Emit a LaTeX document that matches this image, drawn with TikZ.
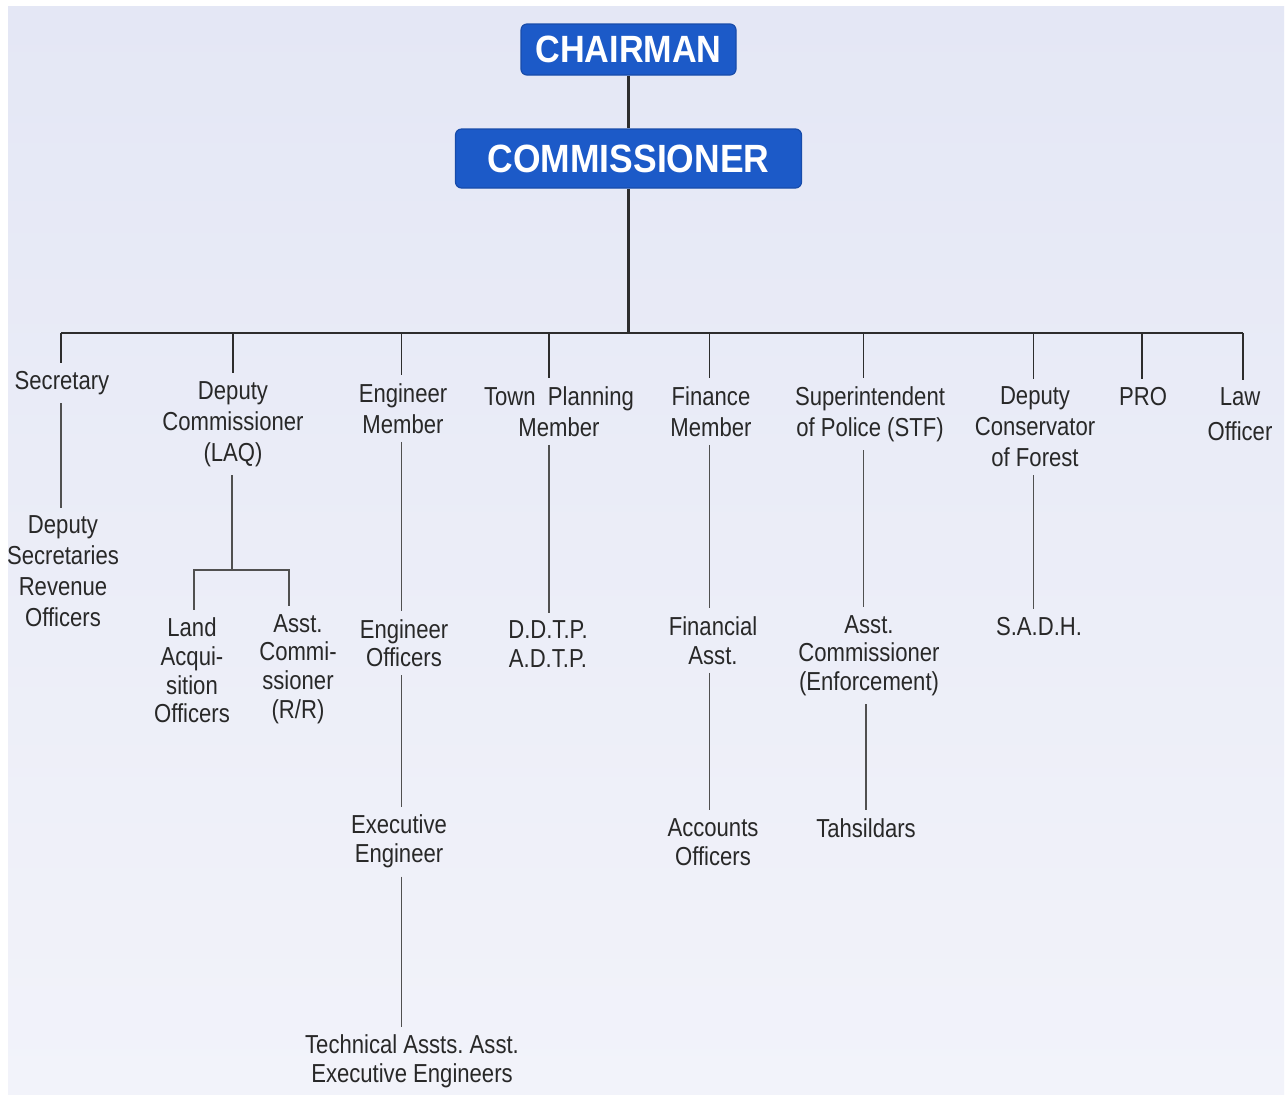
\documentclass[tikz,border=0pt]{standalone}
\usepackage{fontspec}
\setmainfont[FakeStretch=0.85]{Liberation Sans}
\newfontfamily\boxfont[FakeStretch=0.9]{Liberation Sans}
\definecolor{bgtop}{RGB}{228,231,245}
\definecolor{bgbot}{RGB}{242,243,250}
\definecolor{hblue}{RGB}{28,90,200}
\definecolor{txt}{RGB}{40,40,40}
\definecolor{ln}{RGB}{45,45,45}
\definecolor{sln}{RGB}{80,80,80}
\frenchspacing
\begin{document}
\begin{tikzpicture}[x=0.5pt,y=-0.5pt,
  lbl/.style={align=center,font=\fontsize{13}{15.5}\selectfont,text=txt,inner sep=4pt},
  hbox/.style={fill=hblue,draw=hblue!85!black,line width=0.6pt,rounded corners=3pt,text=white,inner sep=0pt},
  mainln/.style={draw=ln,line width=1.3pt},
  busln/.style={draw=ln,line width=0.9pt},
  subln/.style={draw=sln,line width=0.75pt}]
\useasboundingbox (0,0) rectangle (1288,1094);
\fill[white] (0,0) rectangle (1288,1094);
\shade[top color=bgtop,bottom color=bgbot] (8,6) rectangle (1284,1094);

% top boxes
\node[hbox,minimum width=107.5pt,minimum height=25.5pt,font=\boxfont\bfseries\fontsize{19}{22}\selectfont] (chair) at (628.5,49.5) {CHAIRMAN};
\node[hbox,minimum width=173pt,minimum height=29.5pt,font=\boxfont\bfseries\fontsize{19.7}{23}\selectfont] (comm) at (628.5,158.5) {COMMISSIONER};

% bus coordinates
\coordinate (bus) at (628.5,333);
\coordinate (c1) at (61,333);
\coordinate (c2) at (233,333);
\coordinate (c3) at (401.5,333);
\coordinate (c4) at (549,333);
\coordinate (c5) at (709.5,333);
\coordinate (c6) at (863.5,333);
\coordinate (c7) at (1033.5,333);
\coordinate (c8) at (1142,333);
\coordinate (c9) at (1243,333);

% level 1 nodes
\node[lbl] (sec) at (62,383) {Secretary};
\node[lbl] (dc) at (233,424) {Deputy\\Commissioner\\(LAQ)};
\node[lbl] (em) at (403,408.5) {Engineer\\Member};
\node[lbl] (tpm) at (559,411.5) {Town\ \ Planning\\Member};
\node[lbl] (fm) at (711,411.5) {Finance\\Member};
\node[lbl] (sp) at (870,414) {Superintendent\\of Police (STF)};
\node[lbl] (dcf) at (1035,427) {Deputy\\Conservator\\of Forest};
\node[lbl] (pro) at (1143,397) {PRO};
\node[lbl] (law) at (1240,414.5) {Law\\[2pt]Officer};

% lower nodes
\node[lbl] (dsr) at (63,571.5) {Deputy\\Secretaries\\Revenue\\Officers};
\node[lbl,font=\fontsize{13}{14.3}\selectfont] (lao) at (192,670.5) {Land\\Acqui-\\sition\\Officers};
\node[lbl,font=\fontsize{13}{14.3}\selectfont] (acr) at (298,669) {Asst.\\Commi-\\ssioner\\(R/R)};
\node[lbl,font=\fontsize{13}{14.3}\selectfont] (eo) at (404,643) {Engineer\\Officers};
\node[lbl,font=\fontsize{13}{14.5}\selectfont] (ee) at (399,841.5) {Executive\\Engineer};
\node[lbl,font=\fontsize{13}{14.5}\selectfont] (ta) at (412,1061.5) {Technical Assts. Asst.\\Executive Engineers};
\node[lbl,font=\fontsize{13}{14.5}\selectfont] (ddtp) at (548,644.5) {D.D.T.P.\\A.D.T.P.};
\node[lbl,font=\fontsize{13}{14.5}\selectfont] (fa) at (713,640.5) {Financial\\Asst.};
\node[lbl,font=\fontsize{13}{14.5}\selectfont] (ao) at (713,842) {Accounts\\Officers};
\node[lbl,font=\fontsize{13}{14.3}\selectfont] (ace) at (869,655.5) {Asst.\\Commissioner\\(Enforcement)};
\node[lbl] (tah) at (866,828) {Tahsildars};
\node[lbl] (sadh) at (1039,627) {S.A.D.H.};

% main connectors
\draw[mainln] (chair) -- (comm);
\draw[mainln] (comm) -- (bus);
\draw[busln] (c1) -- (c9);

% drops from bus
\draw[busln] (c1) -- (sec.north -| c1);
\draw[busln] (c2) -- (dc.north -| c2);
\draw[busln] (c3) -- (em.north -| c3);
\draw[busln] (c4) -- (tpm.north -| c4);
\draw[busln] (c5) -- (fm.north -| c5);
\draw[busln] (c6) -- (sp.north -| c6);
\draw[busln] (c7) -- (dcf.north -| c7);
\draw[busln] (c8) -- (pro.north -| c8);
\draw[busln] (c9) -- (law.north -| c9);

% sub connectors
\draw[subln] (sec.south -| c1) -- (dsr.north -| c1);

\coordinate (j) at (232,570);
\coordinate (jl) at (194,570);
\coordinate (jr) at (289,570);
\draw[subln] (dc.south -| j) -- (j);
\draw[subln] (lao.north -| jl) -- (jl) -- (jr) -- (acr.north -| jr);

\draw[subln] (em.south -| c3) -- (eo.north -| c3);
\draw[subln] (eo.south -| c3) -- (ee.north -| c3);
\draw[subln] (ee.south -| c3) -- (ta.north -| c3);

\draw[subln] (tpm.south -| c4) -- (ddtp.north -| c4);

\draw[subln] (fm.south -| c5) -- (fa.north -| c5);
\draw[subln] (fa.south -| c5) -- (ao.north -| c5);

\draw[subln] (sp.south -| c6) -- (ace.north -| c6);
\draw[subln] (ace.south -| tah) -- (tah.north);

\draw[subln] (dcf.south -| c7) -- (sadh.north -| c7);
\end{tikzpicture}
\end{document}
